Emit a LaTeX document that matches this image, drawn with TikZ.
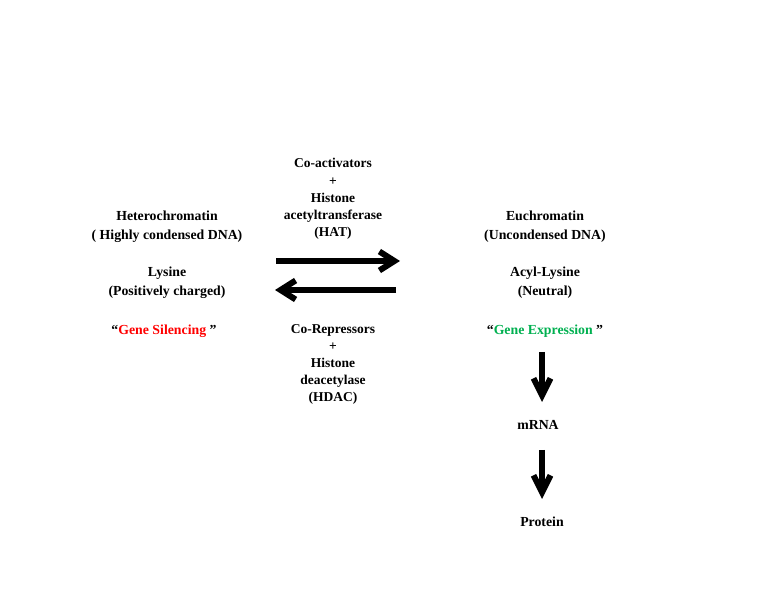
\documentclass[tikz,border=0pt]{standalone}
\usepackage{fontspec}
\setmainfont{Liberation Serif}
\usepackage{xcolor}
\usetikzlibrary{arrows.meta,positioning}
\definecolor{silenceRed}{HTML}{FF0000}
\definecolor{expressGreen}{HTML}{00B050}

\begin{document}
\begin{tikzpicture}[
  x=1pt, y=1pt,
  lbl/.style={align=center, inner sep=1pt, font=\fontsize{13.8}{19}\selectfont\bfseries},
  enz/.style={align=center, inner sep=1pt, font=\fontsize{13.5}{17.2}\selectfont\bfseries},
  fl/.style={-{Straight Barb[length=15pt,width=19pt]}, line width=6pt},
  dl/.style={-{Straight Barb[length=17pt,width=17pt]}, line width=6pt}
]
\useasboundingbox (0,0) rectangle (780,600);

% ---- left column
\node[lbl] (het) at (167,373.5) {Heterochromatin\\( Highly condensed DNA)};
\node[lbl] (lys) at (167,317) {Lysine\\(Positively charged)};
\node[lbl] (sil) at (164,269) {``\textcolor{silenceRed}{Gene Silencing }''};

% ---- enzymes
\node[enz] (hat)  at (333,401) {Co-activators\\+\\Histone\\acetyltransferase\\(HAT)};
\node[enz] (hdac) at (333,235.5) {Co-Repressors\\+\\Histone\\deacetylase\\(HDAC)};

% ---- right column
\node[lbl] (euc) at (545,373.5) {Euchromatin\\(Uncondensed DNA)};
\node[lbl] (acl) at (545,317) {Acyl-Lysine\\(Neutral)};
\node[lbl] (exp) at (545,269) {``\textcolor{expressGreen}{Gene Expression }''};
\node[lbl] (mrna) at (538,175) {mRNA};
\node[lbl] (prot) at (542,78) {Protein};

% ---- equilibrium arrows
\coordinate (fwA) at (276,339);
\coordinate (fwB) at (400,339);
\coordinate (bkA) at (396,310);
\coordinate (bkB) at (275,310);
\draw[fl] (fwA) -- (fwB);
\draw[fl] (bkA) -- (bkB);

% ---- expression
\draw[dl] (542,248) -- (542,198);
\draw[dl] (542,150) -- (542,101);
\end{tikzpicture}
\end{document}
